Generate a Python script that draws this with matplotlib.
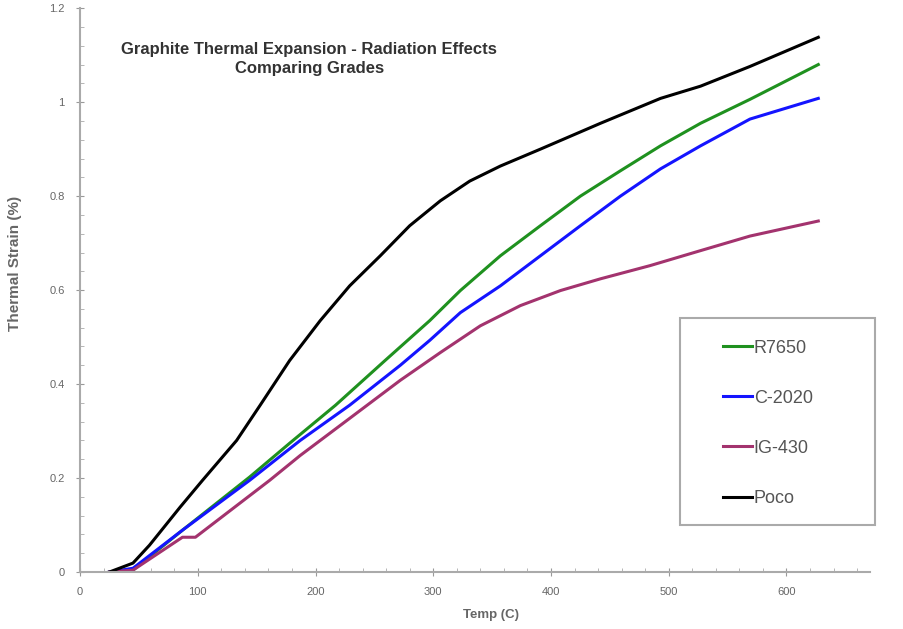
import matplotlib
matplotlib.use("Agg")
import matplotlib.pyplot as plt
from matplotlib.ticker import MultipleLocator
from matplotlib.patches import Rectangle

plt.rcParams['font.family'] = ['Liberation Sans', 'DejaVu Sans']

# Temperature (C) and thermal strain (%) for each graphite grade
r7650_t = [25, 45, 87, 144, 178, 217, 259, 297, 323, 357, 391, 425, 459, 493, 527, 569, 627]
r7650_e = [0.0, 0.004, 0.089, 0.202, 0.274, 0.355, 0.45, 0.535, 0.599, 0.673, 0.737, 0.80, 0.854, 0.907, 0.955, 1.006, 1.08]

c2020_t = [25, 45, 87, 144, 187, 229, 272, 297, 323, 357, 391, 425, 459, 493, 527, 569, 627]
c2020_e = [0.0, 0.008, 0.089, 0.195, 0.28, 0.355, 0.44, 0.493, 0.552, 0.609, 0.673, 0.737, 0.80, 0.858, 0.907, 0.964, 1.008]

ig430_t = [25, 45, 87, 98, 161, 187, 229, 272, 306, 340, 374, 408, 442, 484, 527, 569, 627]
ig430_e = [0.0, 0.004, 0.074, 0.074, 0.195, 0.248, 0.327, 0.408, 0.467, 0.524, 0.567, 0.599, 0.624, 0.652, 0.684, 0.715, 0.747]

poco_t = [25, 45, 59, 85, 104, 133, 153, 178, 204, 229, 255, 280, 306, 331, 357, 391, 442, 493, 527, 569, 627]
poco_e = [0.0, 0.019, 0.057, 0.138, 0.195, 0.28, 0.355, 0.45, 0.535, 0.609, 0.673, 0.737, 0.79, 0.832, 0.864, 0.90, 0.955, 1.008, 1.034, 1.076, 1.138]

x_ticks = [0, 100, 200, 300, 400, 500, 600]
y_ticks = [0, 0.2, 0.4, 0.6, 0.8, 1, 1.2]
y_tick_labels = ["0", "0.2", "0.4", "0.6", "0.8", "1", "1.2"]

fig = plt.figure(figsize=(9.04, 6.29), dpi=100)
ax = fig.add_axes([0.0885, 0.0906, 0.874, 0.8964])

ax.plot(r7650_t, r7650_e, color="#1f911f", lw=2.2, label="R7650")
ax.plot(c2020_t, c2020_e, color="#1414ff", lw=2.2, label="C-2020")
ax.plot(ig430_t, ig430_e, color="#a3336e", lw=2.2, label="IG-430")
ax.plot(poco_t, poco_e, color="#000000", lw=2.2, label="Poco")

ax.set_xlim(0, 671)
ax.set_ylim(0, 1.2)
ax.set_xticks(x_ticks)
ax.set_yticks(y_ticks)
ax.set_yticklabels(y_tick_labels)
ax.xaxis.set_minor_locator(MultipleLocator(20))
ax.yaxis.set_minor_locator(MultipleLocator(0.04))

for side in ("top", "right"):
    ax.spines[side].set_visible(False)
for side in ("left", "bottom"):
    ax.spines[side].set_color("#aaaaaa")
    ax.spines[side].set_linewidth(1.5)

ax.tick_params(axis="both", which="major", direction="inout", length=6, color="#999999",
               labelsize=8, labelcolor="#666666", pad=8)
ax.tick_params(axis="both", which="minor", direction="in", length=3, color="#aaaaaa")

ax.set_xlabel("Temp (C)", fontsize=9.5, fontweight="bold", color="#666666")
ax.xaxis.set_label_coords(0.52, -0.065)
ax.set_ylabel("Thermal Strain (%)", fontsize=11, fontweight="bold", color="#666666")
ax.yaxis.set_label_coords(-0.074, 0.548)

ax.text(0.29, 0.91, "Graphite Thermal Expansion - Radiation Effects\nComparing Grades",
        transform=ax.transAxes, ha="center", va="center", fontsize=12,
        fontweight="bold", color="#333333", linespacing=1.35)

# legend frame drawn separately so its size is independent of the entries
ax.add_patch(Rectangle((0.759, 0.083), 0.247, 0.367, transform=ax.transAxes,
                       facecolor="white", edgecolor="#aaaaaa", lw=1.5,
                       clip_on=False, zorder=4))
leg = ax.legend(loc="upper left", bbox_to_anchor=(0.814, 0.412), frameon=False,
                fontsize=13, handlelength=1.6, handletextpad=0.1,
                labelspacing=1.83, borderpad=0, borderaxespad=0)
leg.set_zorder(5)
for t in leg.get_texts():
    t.set_color("#555555")

fig.savefig("out.png", dpi=100)
